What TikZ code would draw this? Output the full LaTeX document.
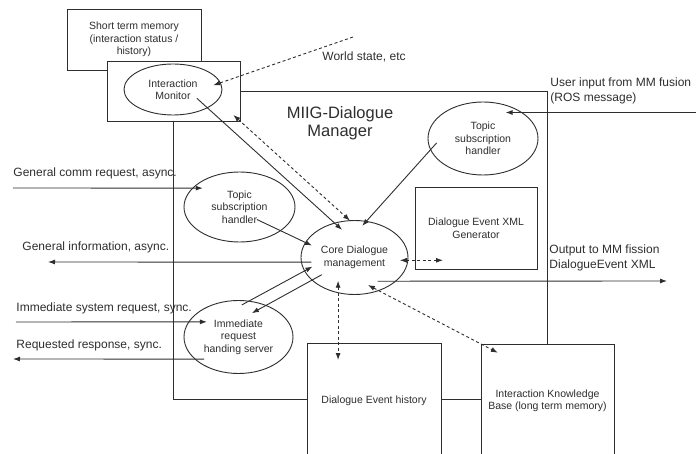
\documentclass[tikz,border=0pt]{standalone}
\usepackage{fontspec}
\setmainfont{Liberation Sans}
\usetikzlibrary{shapes.geometric,arrows.meta}

\begin{document}
\begin{tikzpicture}[x=1pt,y=-1pt,line width=0.9pt,color=black!82,
    box/.style={draw, fill=white, rectangle, align=center, outer sep=0pt, font=\fontsize{10.5}{12.5}\selectfont},
    proc/.style={draw, fill=white, ellipse, inner sep=0pt, outer sep=0pt, align=center, font=\fontsize{10.5}{12.5}\selectfont},
    lbl/.style={anchor=west, inner sep=0pt, align=left, font=\fontsize{12}{15}\selectfont},
    flow/.style={-{Latex[length=7pt,width=5pt]}},
    dsh/.style={dash pattern=on 3pt off 2.5pt},
    both/.style={dsh, {Latex[length=7pt,width=5pt]}-{Latex[length=7pt,width=5pt]}}]
  \useasboundingbox (0,0) rectangle (696,454);
  \clip (0,0) rectangle (696,454);

  \node[box, minimum width=134pt, minimum height=61pt] (stm) at (134,39.5) {Short term memory\\(interaction status /\\history)};
  \node[draw, minimum width=374pt, minimum height=308pt, outer sep=0pt] (miig) at (360,245) {};
  \node[box, minimum width=133pt, minimum height=60pt] (monbox) at (173.5,91) {};
  \node[proc, minimum width=98pt, minimum height=51pt] (mon) at (173,89.5) {Interaction\\Monitor};
  \node[align=center, font=\fontsize{16.5}{18.5}\selectfont] (title) at (340,123) {MIIG-Dialogue\\Manager};
  \node[proc, minimum width=110pt, minimum height=73pt] (tsr) at (483,138.5) {Topic\\subscription\\handler};
  \node[proc, minimum width=111pt, minimum height=70pt] (tsl) at (239.5,207) {Topic\\subscription\\handler};
  \node[proc, minimum width=107pt, minimum height=74pt] (core) at (354.5,257.5) {Core Dialogue\\management};
  \node[proc, minimum width=109pt, minimum height=73pt] (imm) at (238.5,337) {Immediate\\request\\handing server};
  \node[box, minimum width=122pt, minimum height=82pt] (dexg) at (476,228) {Dialogue Event XML\\Generator};
  \node[box, minimum width=134pt, minimum height=115pt] (deh) at (374,400.5) {Dialogue Event history};
  \node[box, minimum width=133pt, minimum height=114pt] (ikb) at (547.5,401) {Interaction Knowledge\\Base (long term memory)};

  \node[lbl] (wslbl) at (322,57) {World state, etc};
  \node[lbl] (uinlbl) at (550,90.5) {User input from MM fusion\\(ROS message)};
  \node[lbl] (gcrlbl) at (13,173) {General comm request, async.};
  \node[lbl] (ginflbl) at (22,247) {General information, async.};
  \node[lbl] (isrlbl) at (16,308) {Immediate system request, sync.};
  \node[lbl] (rrslbl) at (16,345) {Requested response, sync.};
  \node[lbl] (outlbl) at (549,257.5) {Output to MM fission\\DialogueEvent XML};

  \coordinate (ws) at (353,37);
  \coordinate (uin) at (696,112.5);
  \coordinate (gcr) at (13,188);
  \coordinate (ginf) at (48,262);
  \coordinate (isr) at (16,322);
  \coordinate (rrs) at (13,359);
  \coordinate (out) at (667,281);

  \draw[flow, dsh, shorten >=-7.5pt] (ws) -- (mon.8);
  \draw[both, shorten <=-9pt] (monbox.south east) -- (core.97);
  \draw[flow, shorten <=-14pt, shorten >=-10pt] (mon.-28) -- (core.120);
  \draw[flow, shorten <=-26pt, shorten >=-7pt] (tsl.-30) -- (core.163);
  \draw[flow, shorten <=-9pt, shorten >=-6pt] (tsr.-168) -- (core.72);
  \draw[flow, shorten >=-16pt] (uin) -- (tsr.34);
  \draw[both, shorten <=-8pt, shorten >=-28pt] (core.-3) -- (core.-3 -| dexg.west);
  \draw[flow, shorten <=-18pt] (core.-30) -- (out);
  \draw[flow, shorten >=-10pt] (gcr) -- (tsl.158);
  \draw[flow, shorten <=-10pt] (core.185) -- (ginf);
  \draw[flow, shorten >=-18pt] (isr) -- (imm.163);
  \draw[flow, shorten <=-9pt] (imm.207) -- (rrs);
  \draw[flow, shorten <=-8pt, shorten >=-9pt] (imm.74) -- (core.195);
  \draw[flow, shorten <=-11pt, shorten >=-16pt] (core.208) -- (imm.49);
  \draw[both, shorten <=-12pt, shorten >=-17pt] (core.245) -- (core.245 |- deh.north);
  \draw[both, shorten <=-12pt, shorten >=-19pt] (core.-54) -- (ikb.north west);
\end{tikzpicture}
\end{document}
